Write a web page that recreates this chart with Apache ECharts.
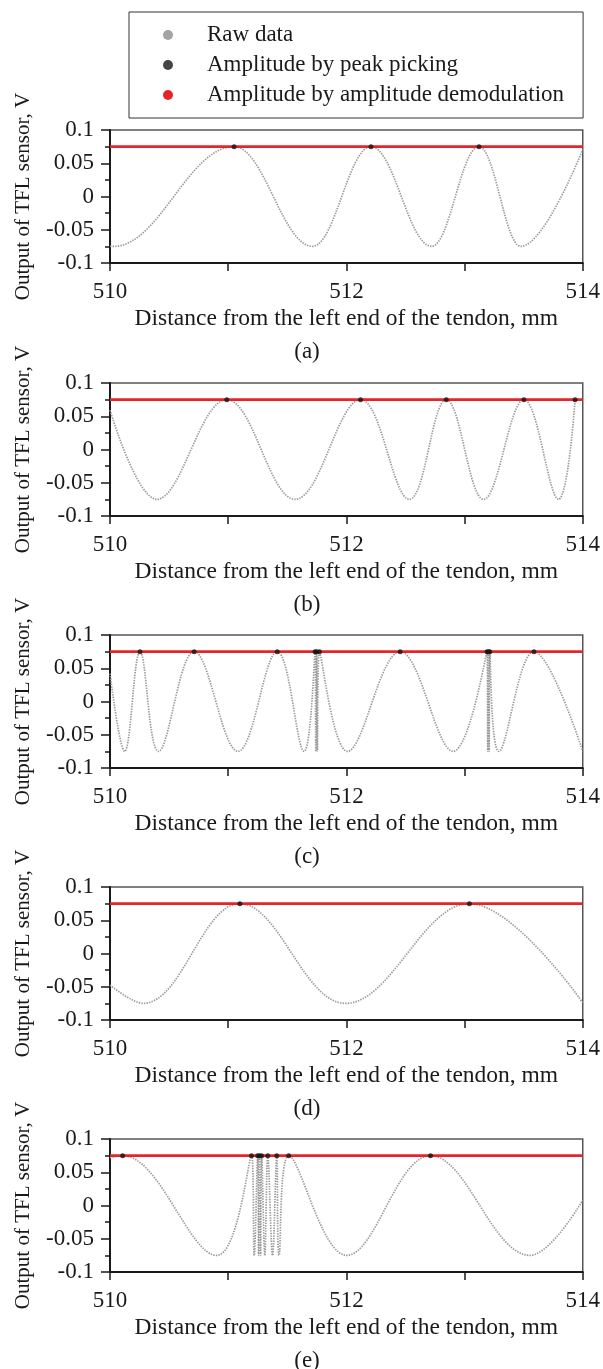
<!DOCTYPE html>
<html>
<head>
<meta charset="utf-8">
<title>Output of TFL sensor</title>
<script src="https://cdn.jsdelivr.net/npm/echarts@6/dist/echarts.min.js"></script>
<style>
	html, body { margin: 0; padding: 0; background: #fff; }
	#chart { width: 603px; height: 1369px; }
</style>
</head>
<body>
<div id="chart"></div>
<script>
// amplitude level found by both methods
let amp = 0.075;
let xTickLabels = [510, 512, 514];
let panelLabels = ['(a)', '(b)', '(c)', '(d)', '(e)'];
let seriesNames = ['Raw data', 'Amplitude by peak picking', 'Amplitude by amplitude demodulation'];

// raw signal at its peaks and troughs
let rawA = [[510, -0.0748], [510.03, -0.075], [511.05, 0.075], [511.714, -0.075], [512.208, 0.075],
	[512.722, -0.075], [513.122, 0.075], [513.476, -0.075], [514, 0.071]];
let rawB = [[510, 0.059], [510.397, -0.075], [510.988, 0.075], [511.567, -0.075], [512.12, 0.075],
	[512.533, -0.075], [512.845, 0.075], [513.161, -0.075], [513.502, 0.075], [513.795, -0.075],
	[513.935, 0.075]];
let rawC = [[510, 0.042], [510.124, -0.075], [510.254, 0.075], [510.41, -0.075], [510.712, 0.075],
	[511.083, -0.075], [511.415, 0.075], [511.642, -0.075], [511.735, 0.075], [511.741, -0.075],
	[511.748, 0.075], [511.754, -0.075], [511.772, 0.075], [512.01, -0.075], [512.455, 0.075],
	[512.904, -0.075], [513.19, 0.075], [513.196, -0.075], [513.202, 0.075], [513.208, -0.075],
	[513.214, 0.075], [513.29, -0.075], [513.587, 0.075], [514, -0.075]];
let rawD = [[510, -0.0475], [510.28, -0.075], [511.099, 0.075], [511.993, -0.075], [513.041, 0.075],
	[514, -0.074]];
let rawE = [[510, 0.072], [510.107, 0.075], [510.904, -0.075], [511.197, 0.075], [511.22, -0.075],
	[511.25, 0.075], [511.257, -0.075], [511.265, 0.075], [511.274, -0.075], [511.283, 0.075],
	[511.31, -0.075], [511.335, 0.075], [511.375, -0.075], [511.411, 0.075], [511.43, -0.075],
	[511.512, 0.075], [512.003, -0.075], [512.712, 0.075], [513.554, -0.075], [514, 0.008]];

// positions of the picked peaks (mm)
let peaksA = [511.05, 512.208, 513.122];
let peaksB = [510.988, 512.12, 512.845, 513.502, 513.935];
let peaksC = [510.254, 510.712, 511.415, 511.735, 511.748, 511.772, 512.455, 513.19, 513.202, 513.214, 513.587];
let peaksD = [511.099, 513.041];
let peaksE = [510.107, 511.197, 511.25, 511.265, 511.283, 511.335, 511.411, 511.512, 512.712];

let rawSets = [rawA, rawB, rawC, rawD, rawE];
let peakSets = [peaksA, peaksB, peaksC, peaksD, peaksE];

function initChart(){
	let myChart = echarts.init(document.getElementById('chart'));
	let font = 'Liberation Serif';
	let panelTop = [130, 383, 635, 887, 1139];
	let plotH = 133;
	// (a) starts and ends on flat parts of the wave
	let monotone = ['x', null, null, null, null];

	let grids = [], xAxes = [], yAxes = [], series = [], graphics = [];

	panelTop.forEach(function(top, i){
		grids.push({
			left: 110,
			width: 473,
			top: top,
			height: plotH,
			show: true,
			borderColor: '#555',
			borderWidth: 1.5
		});
		xAxes.push({
			type: 'value',
			gridIndex: i,
			min: 510,
			max: 514,
			interval: 1,
			name: 'Distance from the left end of the tendon, mm',
			nameLocation: 'middle',
			nameGap: 44,
			nameTextStyle: { fontFamily: font, fontSize: 23.5, color: '#1a1a1a' },
			axisLine: { onZero: false, lineStyle: { color: '#1a1a1a', width: 2 } },
			axisTick: { length: 8, lineStyle: { color: '#1a1a1a', width: 1.5 } },
			axisLabel: {
				margin: 17,
				fontFamily: font,
				fontSize: 23,
				color: '#1a1a1a',
				formatter: function(v){ return xTickLabels.indexOf(v) > -1 ? String(v) : ''; }
			},
			splitLine: { show: false }
		});
		yAxes.push({
			type: 'value',
			gridIndex: i,
			min: -0.1,
			max: 0.1,
			interval: 0.05,
			name: 'Output of TFL sensor, V',
			nameLocation: 'middle',
			nameGap: 76,
			nameTextStyle: { fontFamily: font, fontSize: 21, color: '#1a1a1a' },
			axisLine: { onZero: false, lineStyle: { color: '#1a1a1a', width: 2 } },
			axisTick: { length: 9, lineStyle: { color: '#1a1a1a', width: 1.5 } },
			minorTick: { show: true, splitNumber: 2, length: 5, lineStyle: { color: '#1a1a1a', width: 1.5 } },
			axisLabel: {
				margin: 16,
				fontFamily: font,
				fontSize: 23,
				color: '#1a1a1a',
				formatter: function(v){ return String(Math.round(v * 100) / 100); }
			},
			splitLine: { show: false }
		});

		series.push({
			name: seriesNames[0],
			type: 'line',
			xAxisIndex: i,
			yAxisIndex: i,
			data: rawSets[i],
			smooth: 0.38,
			smoothMonotone: monotone[i],
			symbol: 'none',
			color: '#9a9a9a',
			lineStyle: { color: '#999', width: 1.7, type: [1.4, 1.2] },
			z: 2
		});
		series.push({
			name: seriesNames[2],
			type: 'line',
			xAxisIndex: i,
			yAxisIndex: i,
			data: [[510, amp], [514, amp]],
			symbol: 'none',
			color: '#e3262a',
			lineStyle: { color: '#e3262a', width: 2.8 },
			z: 3
		});
		series.push({
			name: seriesNames[1],
			type: 'scatter',
			xAxisIndex: i,
			yAxisIndex: i,
			data: peakSets[i].map(function(x){ return [x, amp]; }),
			symbol: 'circle',
			symbolSize: 5,
			itemStyle: { color: '#151515' },
			z: 4
		});

		graphics.push({
			type: 'text',
			x: 307,
			y: top + plotH + 89,
			style: {
				text: panelLabels[i],
				fontFamily: font,
				fontSize: 23,
				fill: '#1a1a1a',
				textAlign: 'center',
				textVerticalAlign: 'middle'
			}
		});
	});

	let option = {
		animation: false,
		backgroundColor: '#fff',
		legend: {
			orient: 'vertical',
			left: 129,
			top: 12,
			padding: [11, 19, 11, 34],
			itemGap: 6,
			itemWidth: 10,
			itemHeight: 10,
			borderColor: '#333',
			borderWidth: 1,
			selectedMode: false,
			icon: 'circle',
			textStyle: {
				fontFamily: font,
				fontSize: 23,
				lineHeight: 24,
				color: '#1a1a1a',
				padding: [0, 0, 0, 29]
			},
			data: [
				{ name: seriesNames[0], itemStyle: { color: '#a3a3a3' } },
				{ name: seriesNames[1], itemStyle: { color: '#151515' } },
				{ name: seriesNames[2], itemStyle: { color: '#e3262a' } }
			]
		},
		grid: grids,
		xAxis: xAxes,
		yAxis: yAxes,
		series: series,
		graphic: graphics
	};
	myChart.setOption(option);
	return myChart
}
initChart();
</script>
</body>
</html>
